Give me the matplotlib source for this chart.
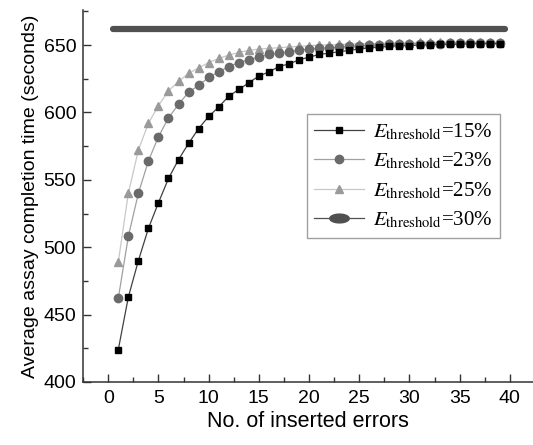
import matplotlib
matplotlib.use('Agg')
import matplotlib.pyplot as plt
from matplotlib.lines import Line2D
from matplotlib.path import Path
from matplotlib.ticker import MultipleLocator
import numpy as np

plt.rcParams['font.family'] = ['Liberation Sans', 'DejaVu Sans']
plt.rcParams['mathtext.fontset'] = 'stix'

# number of inserted errors
errors = list(range(1, 40))

# average completion time per threshold
t15 = [424, 463, 490, 514, 533, 551, 565, 577, 588, 597, 604, 612, 617, 622, 627,
       630, 634, 636, 639, 641, 643, 644, 645, 646, 647, 648, 648.5, 649, 649.5,
       649.5, 650, 650, 650.5, 650.5, 650.5, 651, 651, 651, 651]
t23 = [462, 508, 540, 564, 582, 596, 606, 615, 620, 626, 630, 634, 637, 639, 641,
       643, 644, 645, 646, 647, 647.5, 648, 648.5, 649, 649.5, 650, 650, 650.5,
       650.5, 651, 651, 651, 651, 651.5, 651.5, 651.5, 651.5, 651.5, 651.5]
t25 = [489, 540, 572, 592, 605, 616, 623, 629, 633, 637, 640, 642.5, 644.5, 646,
       647, 647.5, 648, 648.5, 649, 649.5, 650, 650, 650.5, 650.5, 651, 651, 651,
       651.5, 651.5, 651.5, 652, 652, 652, 652, 652, 652, 652, 652, 652]
t30_x = [0.5, 39.5]
t30 = [662, 662]

labels = [r'$E_{\mathrm{threshold}}$=15%', r'$E_{\mathrm{threshold}}$=23%',
          r'$E_{\mathrm{threshold}}$=25%', r'$E_{\mathrm{threshold}}$=30%']

fig = plt.figure(figsize=(5.33, 4.45), dpi=100)
ax = fig.add_axes([0.156, 0.1416, 0.844, 0.836])

ax.plot(t30_x, t30, color='#505050', lw=4.5, solid_capstyle='round', zorder=2)
ax.plot(errors, t25, color='#c8c8c8', lw=0.9, marker='^', ms=6,
        mfc='#9a9a9a', mec='#9a9a9a', zorder=3)
ax.plot(errors, t23, color='#a0a0a0', lw=0.9, marker='o', ms=6,
        mfc='#6a6a6a', mec='#6a6a6a', zorder=4)
ax.plot(errors, t15, color='#404040', lw=0.9, marker='s', ms=5,
        mfc='black', mec='black', zorder=5)

ax.set_xlim(-2.5, 42.3)
ax.set_ylim(400, 676)
ax.xaxis.set_major_locator(MultipleLocator(5))
ax.xaxis.set_minor_locator(MultipleLocator(2.5))
ax.yaxis.set_major_locator(MultipleLocator(50))
ax.yaxis.set_minor_locator(MultipleLocator(25))
ax.tick_params(which='both', direction='in', labelsize=14, color='#333333')
ax.tick_params(which='major', length=6, width=1)
ax.tick_params(which='minor', length=3.5, width=1)
ax.tick_params(axis='x', pad=6)
ax.tick_params(axis='y', pad=5)
for s in ['top', 'right']:
    ax.spines[s].set_visible(False)
for s in ['left', 'bottom']:
    ax.spines[s].set_color('#333333')
    ax.spines[s].set_linewidth(1.1)

ax.set_xlabel('No. of inserted errors', fontsize=15.5, labelpad=3)
ax.set_ylabel('Average assay completion time (seconds)', fontsize=14, labelpad=3)

# oval marker for the thick series in the legend
t = np.linspace(0, 2 * np.pi, 60)
oval = Path(np.column_stack([np.cos(t), 0.45 * np.sin(t)]))

handles = [
    Line2D([], [], color='#404040', lw=0.9, marker='s', ms=5, mfc='black', mec='black'),
    Line2D([], [], color='#a0a0a0', lw=0.9, marker='o', ms=6, mfc='#6a6a6a', mec='#6a6a6a'),
    Line2D([], [], color='#c8c8c8', lw=0.9, marker='^', ms=6, mfc='#9a9a9a', mec='#9a9a9a'),
    Line2D([], [], color='#505050', lw=0.9, marker=oval, ms=14, mfc='#505050', mec='#505050'),
]
leg = ax.legend(handles, labels, loc='upper left', bbox_to_anchor=(0.498, 0.72),
                fancybox=False, frameon=True, edgecolor='#888888',
                prop={'family': 'Liberation Serif', 'size': 15},
                handlelength=2.4, handletextpad=0.4, labelspacing=0.42,
                borderpad=0.35, borderaxespad=0)
leg.get_frame().set_linewidth(1.0)

fig.savefig('out.png', dpi=100)
